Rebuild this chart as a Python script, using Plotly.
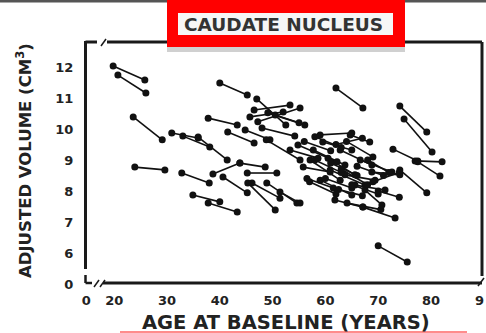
import plotly.graph_objects as go

# Longitudinal pairs: baseline (age, volume) -> follow-up (age, volume)
base_age = [19.8, 20.7, 23.6, 23.9, 40.0, 30.9, 33.0, 35.9, 37.8, 32.8,
            38.7, 43.8, 45.2, 40.6, 45.3, 34.9, 37.8, 46.1, 48.9, 51.4,
            47.0, 46.5, 45.7, 47.2, 49.1, 48.0, 44.8, 48.8, 59.0, 59.5,
            64.7, 54.8, 55.8, 57.7, 57.1, 60.5, 60.9, 62.8, 63.7, 59.0,
            61.8, 64.1, 67.1, 65.6, 66.6, 68.8, 67.5, 53.3, 62.0, 70.0,
            74.1, 74.9, 72.8, 77.0, 77.5, 74.1, 41.5, 50.5, 56.5, 62.5,
            56.0, 58.0, 60.0, 61.0, 63.0, 64.0, 65.0, 66.0, 68.0, 57.0,
            69.0, 62.0, 58.0, 70.0]
base_vol = [12.03, 11.74, 10.39, 8.77, 11.48, 9.87, 9.77, 9.74, 10.35, 8.58,
            8.55, 8.90, 8.58, 8.45, 8.26, 7.87, 7.61, 8.26, 8.26, 7.97,
            10.97, 10.61, 10.39, 10.23, 10.52, 10.03, 9.97, 9.65, 9.81, 9.58,
            9.81, 9.48, 8.77, 9.32, 9.00, 9.06, 8.68, 9.32, 8.52, 8.35,
            7.71, 7.61, 7.48, 8.19, 9.00, 8.61, 8.03, 9.32, 11.32, 6.23,
            10.74, 10.32, 9.35, 8.97, 8.94, 8.68, 9.90, 10.45, 8.40, 8.05,
            9.60, 9.00, 8.40, 8.90, 8.70, 9.60, 8.20, 8.80, 9.00, 8.30,
            8.30, 9.50, 9.75, 8.00]
follow_age = [25.8, 26.0, 29.1, 29.6, 45.2, 35.9, 38.1, 41.4, 43.3, 38.0,
              43.8, 48.6, 50.8, 45.2, 50.5, 40.0, 43.3, 51.4, 54.6, 55.2,
              52.5, 53.3, 52.0, 55.2, 56.1, 54.2, 49.5, 55.2, 65.0, 65.0,
              68.4, 62.2, 60.9, 63.7, 62.8, 65.6, 67.5, 68.8, 69.4, 65.0,
              67.1, 70.5, 73.2, 71.3, 72.6, 74.1, 70.7, 58.6, 67.1, 75.5,
              79.2, 80.2, 77.5, 82.1, 81.7, 79.2, 46.5, 55.0, 61.5, 67.0,
              61.0, 63.0, 65.0, 66.0, 68.0, 69.0, 70.0, 71.0, 72.0, 62.0,
              74.0, 67.0, 63.0, 74.0]
follow_vol = [11.58, 11.16, 9.65, 8.68, 11.10, 9.71, 9.42, 9.00, 10.13, 8.26,
              8.90, 8.77, 8.58, 7.94, 7.39, 7.65, 7.32, 7.77, 7.61, 7.61,
              10.13, 10.77, 10.55, 10.68, 10.13, 9.77, 9.65, 9.00, 9.87, 9.32,
              9.58, 8.94, 8.61, 8.84, 8.35, 8.52, 8.19, 8.84, 8.35, 7.87,
              7.48, 7.40, 7.13, 8.03, 8.61, 8.52, 7.55, 9.06, 10.68, 5.71,
              9.90, 9.26, 8.97, 8.94, 8.48, 7.94, 9.55, 10.20, 8.10, 7.85,
              9.30, 8.60, 8.10, 8.50, 8.20, 9.10, 7.90, 8.50, 8.60, 7.90,
              8.60, 9.70, 9.40, 7.80]

x_tickvals = [14.7, 20, 30, 40, 50, 60, 70, 80]
x_ticktext = ["0", "20", "30", "40", "50", "60", "70", "80"]
x_edge_label = "9"  # the "90" label is cut off by the picture's right edge
y_tickvals = [5, 6, 7, 8, 9, 10, 11, 12]
y_ticktext = ["0", "6", "7", "8", "9", "10", "11", "12"]

W, H = 486, 333
L, R, T, B = 86, 2, 42, 49
PW, PH = W - L - R, H - T - B


def X(px):
    return (px - L) / PW


def Y(py):
    return (H - B - py) / PH


xs, ys = [], []
for a0, v0, a1, v1 in zip(base_age, base_vol, follow_age, follow_vol):
    xs += [a0, a1, None]
    ys += [v0, v1, None]

fig = go.Figure()
fig.add_trace(go.Scatter(
    x=xs, y=ys, mode="lines+markers",
    line=dict(color="#111111", width=1.6),
    marker=dict(color="#111111", size=7),
    showlegend=False, hoverinfo="skip"))

tick_font = dict(family="DejaVu Sans", size=13, color="#222222", weight="bold")

fig.update_layout(
    width=W, height=H,
    margin=dict(l=L, r=R, t=T, b=B),
    paper_bgcolor="white", plot_bgcolor="white",
    xaxis=dict(range=[14.66, 90.04], tickvals=x_tickvals, ticktext=x_ticktext,
               showgrid=False, zeroline=False, showline=False,
               ticks="outside", ticklen=4, tickcolor="rgba(0,0,0,0)",
               tickfont=tick_font),
    yaxis=dict(range=[5, 12.806], tickvals=y_tickvals, ticktext=y_ticktext,
               showgrid=False, zeroline=False, showline=False,
               ticks="outside", ticklen=9, tickcolor="rgba(0,0,0,0)",
               tickfont=tick_font),
)

shapes = []
fc = "#1a1a1a"


def seg(x0, y0, x1, y1, w=3, c=fc):
    shapes.append(dict(type="line", xref="paper", yref="paper",
                       x0=X(x0), y0=Y(y0), x1=X(x1), y1=Y(y1),
                       line=dict(color=c, width=w)))


def rect(x0, y0, x1, y1, c):
    shapes.append(dict(type="rect", xref="paper", yref="paper",
                       x0=X(x0), y0=Y(y0), x1=X(x1), y1=Y(y1),
                       line=dict(width=0), fillcolor=c, layer="above"))


# frame with axis breaks
seg(85.5, 41, 85.5, 269)
seg(85.5, 275, 85.5, 283, w=2.5)
seg(85.5, 283, 92, 283, w=2.5)
seg(94, 287, 99, 280, w=1.5)
seg(100, 287, 105, 280, w=1.5)
seg(103, 283, 482, 283)
seg(85.5, 42, 97, 42)
seg(101, 46, 106, 39, w=1.5)
seg(107, 42, 482, 42)
seg(482, 42, 482, 276)
seg(478, 286, 484, 278, w=1.5)

# top border and title box
rect(0, 0, 486, 2.5, "#555555")
rect(167, 47, 405, 52, "#d0d0d0")
rect(167, 0, 405, 47, "#ff0000")
rect(178, 13, 393, 35, "#f6f6f6")
# bottom partial box edge
seg(120, 332, 467, 332, w=2, c="#ff8c8c")

fig.update_layout(shapes=shapes)

fig.add_annotation(text=x_edge_label, xref="paper", yref="paper",
                   x=X(486), y=Y(300), xanchor="right", yanchor="middle",
                   showarrow=False, font=tick_font)
fig.add_annotation(text="CAUDATE NUCLEUS", xref="paper", yref="paper",
                   x=X(283), y=Y(24), xanchor="center", yanchor="middle",
                   showarrow=False,
                   font=dict(family="DejaVu Sans", size=18.5, color="#333333", weight="bold"))
fig.add_annotation(text="AGE AT BASELINE (YEARS)", xref="paper", yref="paper",
                   x=X(286), y=Y(322), xanchor="center", yanchor="middle",
                   showarrow=False,
                   font=dict(family="DejaVu Sans", size=19.5, color="#222222", weight="bold"))
fig.add_annotation(text="ADJUSTED VOLUME (CM<sup>3</sup>)", xref="paper", yref="paper",
                   x=X(24), y=Y(161), xanchor="center", yanchor="middle",
                   textangle=-90, showarrow=False,
                   font=dict(family="DejaVu Sans", size=16.5, color="#222222", weight="bold"))

fig.write_html("out.html", config={"displayModeBar": False},
               post_script="document.body.style.margin='0';document.body.style.overflow='hidden';")
